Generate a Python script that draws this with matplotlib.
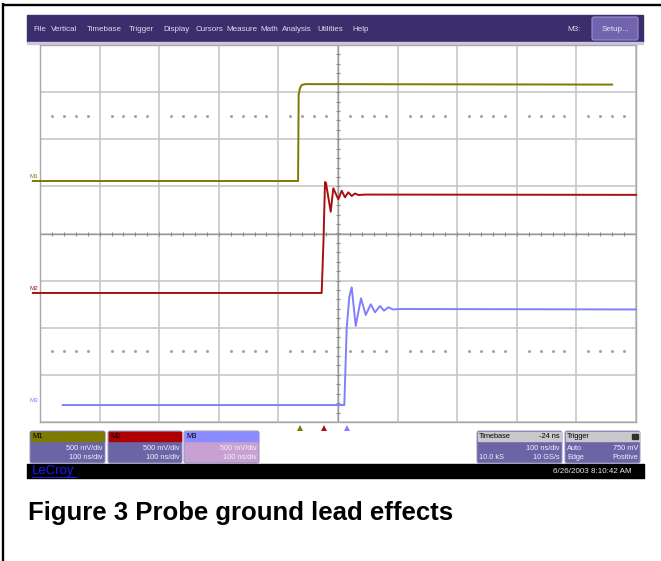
import matplotlib.pyplot as plt
import numpy as np
from matplotlib.patches import Rectangle, FancyBboxPatch

plt.rcParams["font.family"] = ["Liberation Sans", "DejaVu Sans"]

# traces: time in ns, voltage in V on screen (500 mV/div)
m1_t = [-512, -67, -66, -64, -61, -55, 460]
m1_v = [0.557, 0.557, 1.47, 1.54, 1.575, 1.585, 1.58]

m2_t = [-512, -27.4, -24.3, -21.8, -20.1, -18.5, -12.2, -7.9, 0.5, 6.2,
        11.7, 17.3, 23.0, 28.5, 34.4, 45.3, 500]
m2_v = [-0.631, -0.631, -0.069, 0.546, 0.536, 0.47, 0.231, 0.480, 0.363, 0.454,
        0.384, 0.437, 0.398, 0.424, 0.408, 0.413, 0.41]

m3_t = [-462, 10.6, 14.6, 19.0, 23.0, 29.7, 38.6, 46.5, 54.9, 62.1, 70.5,
        77.2, 84.4, 92.3, 104, 500]
m3_v = [-1.82, -1.82, -1.003, -0.671, -0.571, -0.981, -0.688, -0.865, -0.751,
        -0.836, -0.769, -0.819, -0.783, -0.806, -0.801, -0.806]

channels = ["M1", "M2", "M3"]
channel_colors = ["#7d7a00", "#a81010", "#8080ff"]
channel_levels = [0.557, -0.631, -1.82]
trigger_marks = [-64, -24, 15]

menu_items = ["File", "Vertical", "Timebase", "Trigger", "Display", "Cursors",
              "Measure", "Math", "Analysis", "Utilities", "Help"]
menu_x = [33.5, 51, 87, 129, 163, 196, 226, 260, 282, 317, 352]

W, H = 661, 561
fig = plt.figure(figsize=(W / 100, H / 100), dpi=100)

# pixel-space layer for the screenshot chrome
ui = fig.add_axes([0, 0, 1, 1])
ui.set_xlim(0, W)
ui.set_ylim(H, 0)
ui.axis("off")

ui.plot([2.9, 2.9], [3, H], color="black", lw=1.7, solid_capstyle="butt")
ui.plot([2, W], [4.5, 4.5], color="black", lw=1.7, solid_capstyle="butt")

# menu bar
ui.add_patch(Rectangle((26.7, 15), 616, 27, color="#3c2e6c"))
ui.add_patch(Rectangle((26.7, 42), 616, 2, color="#cdc6e0"))
for name, x in zip(menu_items, menu_x):
    ui.text(x, 29, name, color="#dcdcec", fontsize=5.8, va="center", ha="left")
ui.text(567, 29, "M3:", color="#dcdcec", fontsize=5.8, va="center", ha="left")
ui.add_patch(FancyBboxPatch((592, 17), 46, 23, boxstyle="round,pad=0,rounding_size=2",
                            fc="#7163ad", ec="#9a90cc", lw=0.8))
ui.text(615, 29, "Setup...", color="#e4e4f2", fontsize=5.8, va="center", ha="center")


def panel(x0, w, head_color, body_color):
    ui.add_patch(FancyBboxPatch((x0, 431), w, 32, boxstyle="round,pad=0,rounding_size=2",
                                fc=body_color, ec="#9890c4", lw=0.7))
    ui.add_patch(Rectangle((x0 + 0.8, 431.8), w - 1.6, 9.5, color=head_color))


body = "#6b65a8"
txt = "#f2f2f6"
fs = 5.3
panel(30, 75, channel_colors[0], body)
panel(108, 74, "#b00000", body)
panel(184, 75, "#8a8cff", "#c8a0d2")
for (x0, w), name in zip([(30, 75), (108, 74), (184, 75)], channels):
    ui.text(x0 + 2, 436.5, name, fontsize=fs, va="center", color="black")
    ui.text(x0 + w - 2, 448, "500 mV/div", fontsize=fs, va="center", ha="right", color=txt)
    ui.text(x0 + w - 2, 457.5, "100 ns/div", fontsize=fs, va="center", ha="right", color=txt)

panel(477, 85, "#c9c9cd", body)
ui.text(479, 436.5, "Timebase", fontsize=fs, va="center", color="black")
ui.text(560, 436.5, "-24 ns", fontsize=fs, va="center", ha="right", color="black")
ui.text(560, 448, "100 ns/div", fontsize=fs, va="center", ha="right", color=txt)
ui.text(479, 457.5, "10.0 kS", fontsize=fs, va="center", color=txt)
ui.text(560, 457.5, "10 GS/s", fontsize=fs, va="center", ha="right", color=txt)

panel(565, 75, "#c9c9cd", body)
ui.text(567, 436.5, "Trigger", fontsize=fs, va="center", color="black")
ui.add_patch(Rectangle((632, 433.5), 5.5, 5.5, color="#303030"))
ui.text(567, 448, "Auto", fontsize=fs, va="center", color=txt)
ui.text(638, 448, "750 mV", fontsize=fs, va="center", ha="right", color=txt)
ui.text(567, 457.5, "Edge", fontsize=fs, va="center", color=txt)
ui.text(638, 457.5, "Positive", fontsize=fs, va="center", ha="right", color=txt)

# status bar
ui.add_patch(Rectangle((27, 464), 617, 14, color="black"))
ui.text(32, 471, "LeCroy", fontsize=9.5, va="center", color="#1a1aff")
ui.plot([32, 76], [477, 477], color="#1a1aff", lw=0.7)
ui.text(632, 471.5, "6/26/2003 8:10:42 AM", fontsize=5.8, va="center", ha="right",
        color="#e8e8e8")

# scope graticule: 10 div x 100 ns, 8 div x 500 mV
sc = fig.add_axes([40 / W, 1 - 422 / H, 596 / W, 377 / H])
sc.set_xlim(-500, 500)
sc.set_ylim(-2, 2)
sc.set_xticks(np.arange(-500, 501, 100))
sc.set_yticks(np.arange(-2, 2.01, 0.5))
sc.tick_params(length=0, labelbottom=False, labelleft=False)
sc.grid(True, color="#c4c4c4", lw=1.1)
for s in sc.spines.values():
    s.set_color("#a8a8a8")
    s.set_linewidth(1.0)
sc.axhline(0, color="#9a9a9a", lw=1.0)
sc.axvline(0, color="#9a9a9a", lw=1.0)

minor_t = np.arange(-480, 481, 20)
minor_v = np.arange(-1.9, 1.91, 0.1)
sc.plot(minor_t, np.zeros_like(minor_t), ls="none", marker="|", ms=3.5,
        mew=0.8, color="#8a8a8a")
sc.plot(np.zeros_like(minor_v), minor_v, ls="none", marker="_", ms=3.5,
        mew=0.8, color="#8a8a8a")
dot_t = minor_t[minor_t % 100 != 0]
for lvl in (1.25, -1.25):
    sc.plot(dot_t, np.full_like(dot_t, lvl, dtype=float), ls="none", marker="s",
            ms=1.0, color="#a0a0a0")

for t, v, c in zip([m1_t, m2_t, m3_t], [m1_v, m2_v, m3_v], channel_colors):
    sc.plot(t, v, color=c, lw=1.4, clip_on=False, zorder=5)

for name, c, lvl in zip(channels, channel_colors, channel_levels):
    sc.text(-518, lvl + 0.02, name, fontsize=4.5, color=c, ha="left", va="bottom",
            clip_on=False)

for t, c in zip(trigger_marks, channel_colors):
    sc.plot([t], [-2.06], marker="^", ms=4.5, color=c, clip_on=False, mew=0)

fig.text(28 / W, 1 - 520 / H, "Figure 3 Probe ground lead effects", fontsize=18.5,
         fontweight="bold", va="baseline", ha="left", color="black")

fig.savefig("out.png", dpi=100)
